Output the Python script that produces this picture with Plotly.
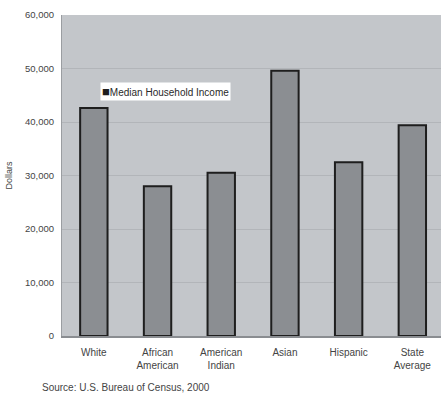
import plotly.graph_objects as go

categories = ["White", "African<br>American", "American<br>Indian", "Asian", "Hispanic", "State<br>Average"]
income = [42600, 28000, 30500, 49600, 32500, 39400]
y_ticks = [0, 10000, 20000, 30000, 40000, 50000, 60000]
y_tick_text = ["0", "10,000", "20,000", "30,000", "40,000", "50,000", "60,000"]
series_name = "Median Household Income"

BAR_FILL = "#8b8e92"
BAR_EDGE = "#1e1e1e"

fig = go.Figure()
fig.add_trace(go.Bar(
    x=list(range(len(categories))),
    y=income,
    name=series_name,
    width=0.43,
    marker=dict(color=BAR_FILL, line=dict(color=BAR_EDGE, width=2)),
    showlegend=False,
))

# compact legend box: square swatch followed by the series name
fig.add_annotation(
    text=f'<span style="color:{BAR_EDGE};font-size:13px">■</span>{series_name}',
    xref="paper", yref="paper", x=0.1, y=0.792,
    xanchor="left", yanchor="top", showarrow=False,
    bgcolor="white", borderpad=1,
    font=dict(size=10, color="#2a2a2a"),
)

fig.add_annotation(
    text="Source: U.S. Bureau of Census, 2000",
    xref="paper", yref="paper", x=-0.058, y=-0.138,
    xanchor="left", yanchor="top", showarrow=False,
    font=dict(size=10, color="#444"),
)

fig.update_layout(
    width=441, height=396,
    margin=dict(l=62, r=0, t=15, b=60),
    paper_bgcolor="white",
    plot_bgcolor="#c3c6ca",
    font=dict(family="Liberation Sans, Arial, sans-serif", size=10, color="#444"),
    xaxis=dict(
        range=[-0.5, 5.45],
        tickmode="array",
        tickvals=list(range(len(categories))),
        ticktext=categories,
        showgrid=False,
        showline=True, linecolor="#8a8d91", linewidth=2,
        ticks="", zeroline=False,
        ticklabelstandoff=6,
        tickfont=dict(size=10, color="#444"),
    ),
    yaxis=dict(
        range=[0, 60000],
        tickmode="array",
        tickvals=y_ticks,
        ticktext=y_tick_text,
        showgrid=True, gridcolor="#b2b5b9", gridwidth=1,
        showline=True, linecolor="#9a9da1", linewidth=1,
        zeroline=False, ticks="",
        ticklabelstandoff=5,
        title=dict(text="Dollars", font=dict(size=9, color="#444"), standoff=10),
        tickfont=dict(size=9.5, color="#444"),
    ),
)

fig.write_html("out.html")
